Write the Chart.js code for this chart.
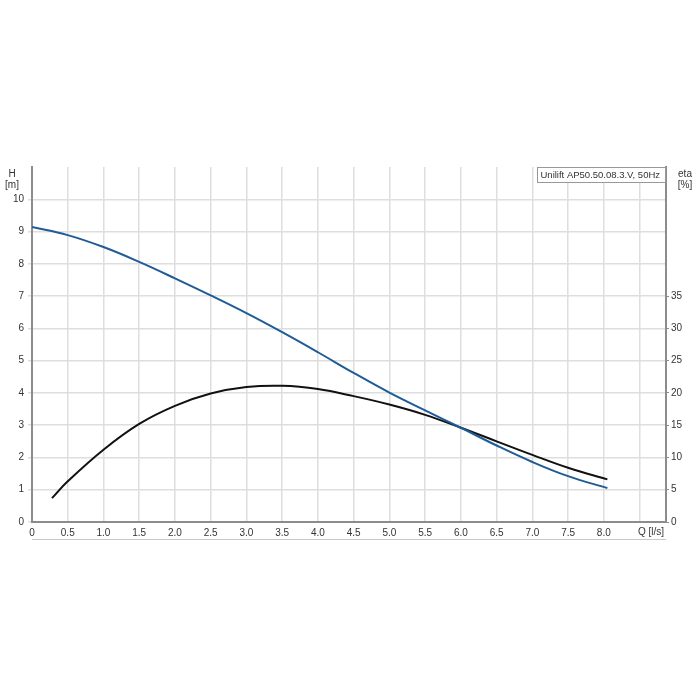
<!DOCTYPE html>
<html>
<head>
<meta charset="utf-8">
<script src="https://cdn.jsdelivr.net/npm/chart.js@4.4.1/dist/chart.umd.min.js"></script>
<style>
  body { margin: 0; background: #fff; }
  #wrap { width: 700px; height: 700px; }
</style>
</head>
<body>
<div id="wrap"><canvas id="chart" width="700" height="700"></canvas></div>
<script>
// flow Q [l/s]
var qHead = [0, 0.5, 1.0, 1.5, 2.0, 2.5, 3.0, 3.5, 4.0, 4.5, 5.0, 5.5, 6.0, 6.5, 7.0, 7.5, 8.05];
var head  = [9.14, 8.89, 8.52, 8.06, 7.55, 7.02, 6.47, 5.88, 5.26, 4.62, 4.01, 3.46, 2.92, 2.37, 1.86, 1.42, 1.05];

var qEta = [0.28, 0.5, 1.0, 1.5, 2.0, 2.5, 3.0, 3.5, 4.0, 4.5, 5.0, 5.5, 6.0, 6.5, 7.0, 7.5, 8.05];
var eta  = [3.7, 6.3, 11.2, 15.2, 18.0, 19.9, 20.9, 21.1, 20.6, 19.5, 18.2, 16.6, 14.6, 12.5, 10.4, 8.4, 6.6];

var legendText = 'Unilift AP50.50.08.3.V, 50Hz';
var font = '"Liberation Sans", Arial, sans-serif';

function pts(xs, ys) {
  return xs.map(function (x, i) { return { x: x, y: ys[i] }; });
}

var extras = {
  id: 'extras',
  afterDraw: function (chart) {
    var ctx = chart.ctx;
    var a = chart.chartArea;
    ctx.save();
    ctx.font = '10px ' + font;
    ctx.fillStyle = '#333';
    ctx.textAlign = 'center';
    ctx.textBaseline = 'middle';
    ctx.fillText('H', 12, 174);
    ctx.fillText('[m]', 12, 185);
    ctx.fillText('eta', 685, 174);
    ctx.fillText('[%]', 685, 185);
    ctx.textAlign = 'left';
    ctx.fillText('Q [l/s]', 638, 532);

    // line under the x labels
    ctx.strokeStyle = '#c8c8c8';
    ctx.lineWidth = 1;
    ctx.beginPath();
    ctx.moveTo(a.left, 539.5);
    ctx.lineTo(a.right, 539.5);
    ctx.stroke();

    // legend box
    ctx.fillStyle = '#fff';
    ctx.fillRect(537, a.top, a.right - 537, 16);
    ctx.strokeStyle = '#999';
    ctx.strokeRect(537.5, a.top + 0.5, a.right - 538, 15);
    ctx.fillStyle = '#333';
    ctx.font = '9.5px ' + font;
    ctx.fillText(legendText, 540.5, a.top + 8);
    ctx.restore();
  }
};

new Chart(document.getElementById('chart'), {
  type: 'line',
  data: {
    datasets: [
      { label: 'H', data: pts(qHead, head), yAxisID: 'y', borderColor: '#1f5c96',
        borderWidth: 2, pointRadius: 0, tension: 0.4, fill: false },
      { label: 'eta', data: pts(qEta, eta), yAxisID: 'y2', borderColor: '#111',
        borderWidth: 2, pointRadius: 0, tension: 0.4, fill: false }
    ]
  },
  options: {
    responsive: false,
    animation: false,
    layout: { padding: { top: 167, left: 0, right: 0, bottom: 0 } },
    plugins: { legend: { display: false }, tooltip: { enabled: false } },
    scales: {
      x: {
        type: 'linear', min: 0, max: 8.87,
        afterFit: function (s) { s.height = 178; },
        border: { color: '#8c8c8c', width: 2 },
        grid: { color: '#dedede', lineWidth: 1.5, drawTicks: false },
        ticks: {
          stepSize: 0.5, includeBounds: false, maxRotation: 0, autoSkip: false, padding: 5,
          color: '#333', font: { family: font, size: 10 },
          callback: function (v) {
            if (v === 0) return '0';
            if (v > 8.01) return '';
            return v.toFixed(1);
          }
        }
      },
      y: {
        position: 'left', min: 0, max: 11,
        afterFit: function (s) { s.width = 32; },
        border: { color: '#8c8c8c', width: 2 },
        grid: {
          color: function (c) { return c.tick && c.tick.value === 11 ? 'rgba(0,0,0,0)' : '#dedede'; },
          lineWidth: 1.5, tickLength: 4
        },
        ticks: {
          stepSize: 1, padding: 4, color: '#333', font: { family: font, size: 10 },
          callback: function (v) { return v > 10 ? '' : String(v); }
        }
      },
      y2: {
        position: 'right', min: 0, max: 55,
        afterFit: function (s) { s.width = 34; },
        border: { color: '#8c8c8c', width: 2 },
        grid: {
          drawOnChartArea: false, tickLength: 3,
          color: function (c) { return c.tick && c.tick.value > 35 ? 'rgba(0,0,0,0)' : '#8c8c8c'; }
        },
        ticks: {
          stepSize: 5, padding: 2, color: '#333', font: { family: font, size: 10 },
          callback: function (v) { return v > 35 ? '' : String(v); }
        }
      }
    }
  },
  plugins: [extras]
});
</script>
</body>
</html>
